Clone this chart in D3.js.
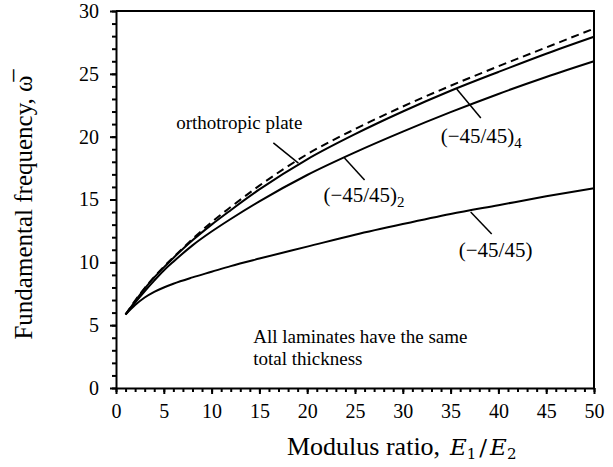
<!DOCTYPE html>
<html lang="en">
<head>
<meta charset="UTF-8">
<title>Fundamental frequency vs modulus ratio</title>
<script src="https://cdnjs.cloudflare.com/ajax/libs/d3/7.8.5/d3.min.js"></script>
<style>
  body { margin: 0; background: #fff; }
  svg text { font-family: "Liberation Serif", "DejaVu Serif", serif; fill: #000; }
  .axis path, .axis line { stroke: #000; stroke-width: 2px; }
  .axis text { font-size: 20px; }
</style>
</head>
<body>
<div id="chart"></div>
<script>
// modulus ratio E1/E2
const ratios = [1, 2, 3, 4, 5, 6, 8, 10, 12, 15, 20, 25, 30, 35, 40, 45, 50];
const orthotropic = [5.85, 6.95, 7.95, 8.85, 9.65, 10.4, 11.85, 13.2, 14.4, 16.1, 18.6, 20.6, 22.4, 24.05, 25.6, 27.1, 28.6];
const lam4 = [5.85, 6.9, 7.9, 8.8, 9.6, 10.35, 11.75, 13.0, 14.15, 15.8, 18.2, 20.2, 22.0, 23.65, 25.15, 26.6, 27.95];
const lam2 = [5.85, 6.8, 7.7, 8.55, 9.35, 10.05, 11.35, 12.45, 13.45, 14.85, 16.95, 18.75, 20.4, 21.95, 23.4, 24.75, 26.0];
const lam1 = [5.85, 6.6, 7.2, 7.65, 8.0, 8.3, 8.8, 9.25, 9.7, 10.3, 11.25, 12.2, 13.05, 13.85, 14.55, 15.25, 15.9];
const xTicks = [0, 5, 10, 15, 20, 25, 30, 35, 40, 45, 50];
const yTicks = [0, 5, 10, 15, 20, 25, 30];

const width = 613, height = 467;
const margin = { top: 11, right: 19, bottom: 79, left: 116 };

const svg = d3.select("#chart").append("svg")
    .attr("width", width)
    .attr("height", height)
    .attr("font-family", "Liberation Serif, DejaVu Serif, serif");

const x = d3.scaleLinear().domain([0, 50]).range([margin.left, width - margin.right]);
const y = d3.scaleLinear().domain([0, 30]).range([height - margin.bottom, margin.top]);

// frame (top & right)
svg.append("path")
    .attr("d", `M${x(0)},${y(30)}H${x(50)}V${y(0)}`)
    .attr("fill", "none").attr("stroke", "#000").attr("stroke-width", 2);

// minor ticks
svg.append("g").attr("class", "axis")
    .attr("transform", `translate(0,${y(0)})`)
    .call(d3.axisBottom(x).ticks(50).tickSize(4).tickFormat(""))
    .call(g => g.select(".domain").remove());
svg.append("g").attr("class", "axis")
    .attr("transform", `translate(${x(0)},0)`)
    .call(d3.axisLeft(y).ticks(30).tickSize(4).tickFormat(""))
    .call(g => g.select(".domain").remove());

// major axes
svg.append("g").attr("class", "axis")
    .attr("transform", `translate(0,${y(0)})`)
    .call(d3.axisBottom(x).tickValues(xTicks).tickSize(6).tickSizeOuter(0).tickPadding(10));
svg.append("g").attr("class", "axis")
    .attr("transform", `translate(${x(0)},0)`)
    .call(d3.axisLeft(y).tickValues(yTicks).tickSize(6).tickSizeOuter(0).tickPadding(11));
svg.selectAll(".axis").attr("font-family", null);

// curves
const line = d3.line()
    .x(d => x(d[0]))
    .y(d => y(d[1]))
    .curve(d3.curveMonotoneX);

const series = [
  { values: orthotropic, dash: "8,5" },
  { values: lam4, dash: null },
  { values: lam2, dash: null },
  { values: lam1, dash: null }
];

svg.selectAll(".curve")
  .data(series)
  .enter().append("path")
    .attr("class", "curve")
    .attr("d", s => line(ratios.map((r, i) => [r, s.values[i]])))
    .attr("fill", "none")
    .attr("stroke", "#000")
    .attr("stroke-width", 2)
    .attr("stroke-dasharray", s => s.dash);

// labels with leader lines (data units)
const labels = [
  { text: "orthotropic plate", sub: null, tx: 6.3, ty: 20.6, l: [16.46, 19.5, 19.08, 17.9] },
  { text: "(\u221245/45)", sub: "4", tx: 33.96, ty: 19.5, l: [35.64, 23.79, 38.16, 21.48] },
  { text: "(\u221245/45)", sub: "2", tx: 21.7, ty: 14.8, l: [23.9, 18.3, 26.0, 16.55] },
  { text: "(\u221245/45)", sub: null, tx: 35.85, ty: 10.42, l: [37.1, 14.0, 39.3, 12.25] }
];

labels.forEach(d => {
  svg.append("line")
    .attr("x1", x(d.l[0])).attr("y1", y(d.l[1]))
    .attr("x2", x(d.l[2])).attr("y2", y(d.l[3]))
    .attr("stroke", "#000").attr("stroke-width", 1.5);
  const t = svg.append("text")
    .attr("x", x(d.tx)).attr("y", y(d.ty))
    .style("font-size", d.text[0] === "(" ? "21px" : "19px")
    .text(d.text);
  if (d.sub) {
    t.append("tspan").attr("dy", 5).style("font-size", "15px").text(d.sub);
  }
});

// note
const note = svg.append("text")
    .attr("x", x(14.36)).attr("y", y(3.58))
    .style("font-size", "19px");
note.append("tspan").text("All laminates have the same");
note.append("tspan").attr("x", x(14.36)).attr("dy", 22).text("total thickness");

// axis titles
svg.append("text")
    .attr("x", 287).attr("y", 455)
    .style("font-size", "26px")
    .text("Modulus ratio,");

const xm = svg.append("text")
    .attr("x", 450).attr("y", 455)
    .style("font-family", "'DejaVu Serif', serif")
    .style("font-size", "23px");
xm.append("tspan").style("font-style", "italic").text("E");
xm.append("tspan").attr("dy", 4).style("font-size", "15px").text("1");
xm.append("tspan").attr("dy", -4).attr("dx", 3).text("/");
xm.append("tspan").attr("dx", 3).style("font-style", "italic").text("E");
xm.append("tspan").attr("dy", 4).style("font-size", "15px").text("2");

svg.append("text")
    .attr("transform", `translate(32,${(y(0) + y(30)) / 2 + 8}) rotate(-90)`)
    .attr("text-anchor", "middle")
    .style("font-size", "25px")
    .text("Fundamental frequency, \u03c9\u0305");
</script>
</body>
</html>
